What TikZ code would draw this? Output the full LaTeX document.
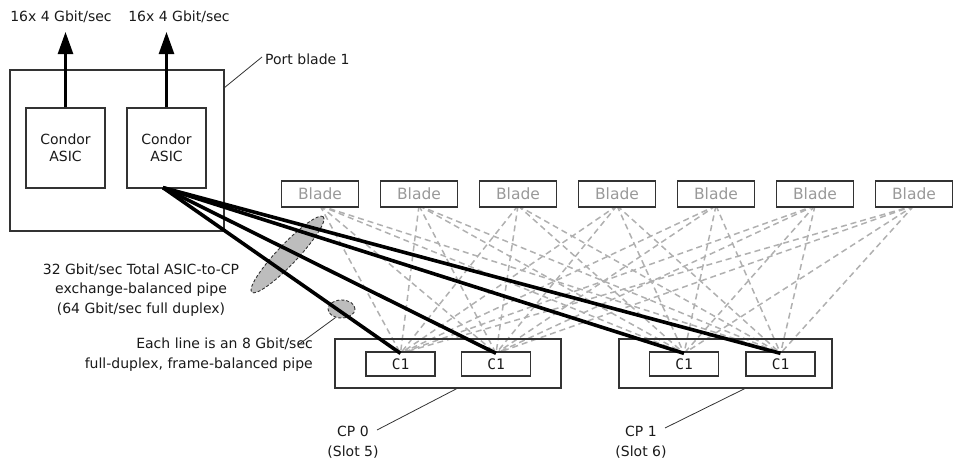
\documentclass[tikz,border=0pt]{standalone}
\usepackage{fontspec}
\setmainfont{DejaVu Sans}
\newfontfamily\cmono{DejaVu Sans Mono}
\usetikzlibrary{shapes.geometric,arrows.meta,calc}
\pgfdeclarelayer{back}
\pgfdeclarelayer{mid}
\pgfsetlayers{back,mid,main}
\definecolor{boxline}{HTML}{333333}
\definecolor{txt}{HTML}{1A1A1A}
\definecolor{meshgray}{HTML}{B0B0B0}
\definecolor{bladetxt}{HTML}{999999}
\definecolor{ellfill}{HTML}{BDBDBD}
\tikzset{
  frame/.style={draw=boxline, line width=1.3pt},
  asicbox/.style={frame, fill=white, minimum width=79pt, minimum height=80pt, align=center, font=\fontsize{14}{16.5}\selectfont, text=txt, inner sep=0pt},
  bladebox/.style={frame, fill=white, minimum width=77pt, minimum height=26pt, inner sep=0pt, font=\fontsize{15.5}{18}\selectfont, text=bladetxt},
  c1box/.style={frame, fill=white, minimum width=69pt, minimum height=24pt, inner sep=0pt, font=\cmono\fontsize{14.5}{16}\selectfont, text=txt},
  lbl/.style={font=\fontsize{14}{19.5}\selectfont, text=txt, inner sep=0pt},
  mesh/.style={draw=meshgray, line width=1.5pt, dash pattern=on 6pt off 4pt},
  pipe/.style={draw=black, line width=3.6pt},
  leader/.style={draw=boxline, line width=0.8pt},
  grayell/.style={ellipse, draw=boxline, fill=ellfill, line width=0.9pt, dash pattern=on 3pt off 2pt, inner sep=0pt},
  uparrow/.style={draw=black, line width=2.6pt, -{Triangle[length=22pt,width=15pt]}}
}
\begin{document}
\begin{tikzpicture}[x=1pt,y=-1pt]
\useasboundingbox (0,0) rectangle (958,464);
% port blade
\node[frame, minimum width=214pt, minimum height=161pt, inner sep=0pt] (pb) at (117,150.5) {};
\node[asicbox] (asic1) at (65.5,148) {Condor\\ASIC};
\node[asicbox] (asic2) at (166.5,148) {Condor\\ASIC};
\node[lbl] (out1) at (61,17) {16x 4 Gbit/sec};
\node[lbl] (out2) at (179,17) {16x 4 Gbit/sec};
\coordinate (tip1) at (asic1.north |- 0,32);
\coordinate (tip2) at (asic2.north |- 0,32);
\draw[uparrow] (asic1.north) -- (tip1);
\draw[uparrow] (asic2.north) -- (tip2);
\node[lbl, anchor=west] (pblbl) at (265,59) {Port blade 1};
\coordinate (pbpt) at (224,88);
\draw[leader] (pbpt) -- ([xshift=-3pt,yshift=2pt]pblbl.west);
% blades
\foreach \i/\x in {1/320,2/419,3/518,4/617,5/716,6/815,7/914}
  \node[bladebox] (b\i) at (\x,194) {Blade};
% CP boxes
\node[frame, minimum width=226pt, minimum height=49pt, inner sep=0pt] (cp0) at (448,363.5) {};
\node[frame, minimum width=213pt, minimum height=49pt, inner sep=0pt] (cp1) at (725.5,363.5) {};
% C1 boxes
\node[c1box] (c1) at (400.5,364) {C1};
\node[c1box] (c2) at (496,364) {C1};
\node[c1box] (c3) at (684,364) {C1};
\node[c1box] (c4) at (780.5,364) {C1};
% mesh
\begin{pgfonlayer}{back}
\foreach \i in {1,...,7}
  \foreach \j in {1,...,4}
    \draw[mesh] ([yshift=2pt]b\i.south) -- ([yshift=-2pt]c\j.north);
\end{pgfonlayer}
% ellipses
\begin{pgfonlayer}{mid}
\node[grayell, minimum width=104pt, minimum height=20pt, rotate=46.5] (bigell) at (287.5,254.5) {};
\node[grayell, minimum width=27pt, minimum height=18pt] (smallell) at (341.5,309) {};
\end{pgfonlayer}
% pipes
\coordinate (src) at ([xshift=-3.5pt,yshift=1pt]asic2.south);
\foreach \j in {1,...,4}
  \draw[pipe] (src) -- ([yshift=-2pt]c\j.north);
% labels
\node[lbl, align=center] (totlbl) at (141,290) {32 Gbit/sec Total ASIC-to-CP\\exchange-balanced pipe\\(64 Gbit/sec full duplex)};
\node[lbl, align=right, anchor=east] (eachlbl) at (313,354.5) {Each line is an 8 Gbit/sec\\full-duplex, frame-balanced pipe};
\coordinate (eachpt) at (298,345);
\draw[leader] (eachpt) -- (smallell.-125);
\node[lbl, align=center] (cp0lbl) at (353,442) {CP 0\\(Slot 5)};
\node[lbl, align=center] (cp1lbl) at (641,442) {CP 1\\(Slot 6)};
\coordinate (cp0a) at (377,430);
\coordinate (cp0b) at (457,388.5);
\coordinate (cp1a) at (665,428);
\coordinate (cp1b) at (745,388.5);
\draw[leader] (cp0a) -- (cp0b);
\draw[leader] (cp1a) -- (cp1b);
\end{tikzpicture}
\end{document}
